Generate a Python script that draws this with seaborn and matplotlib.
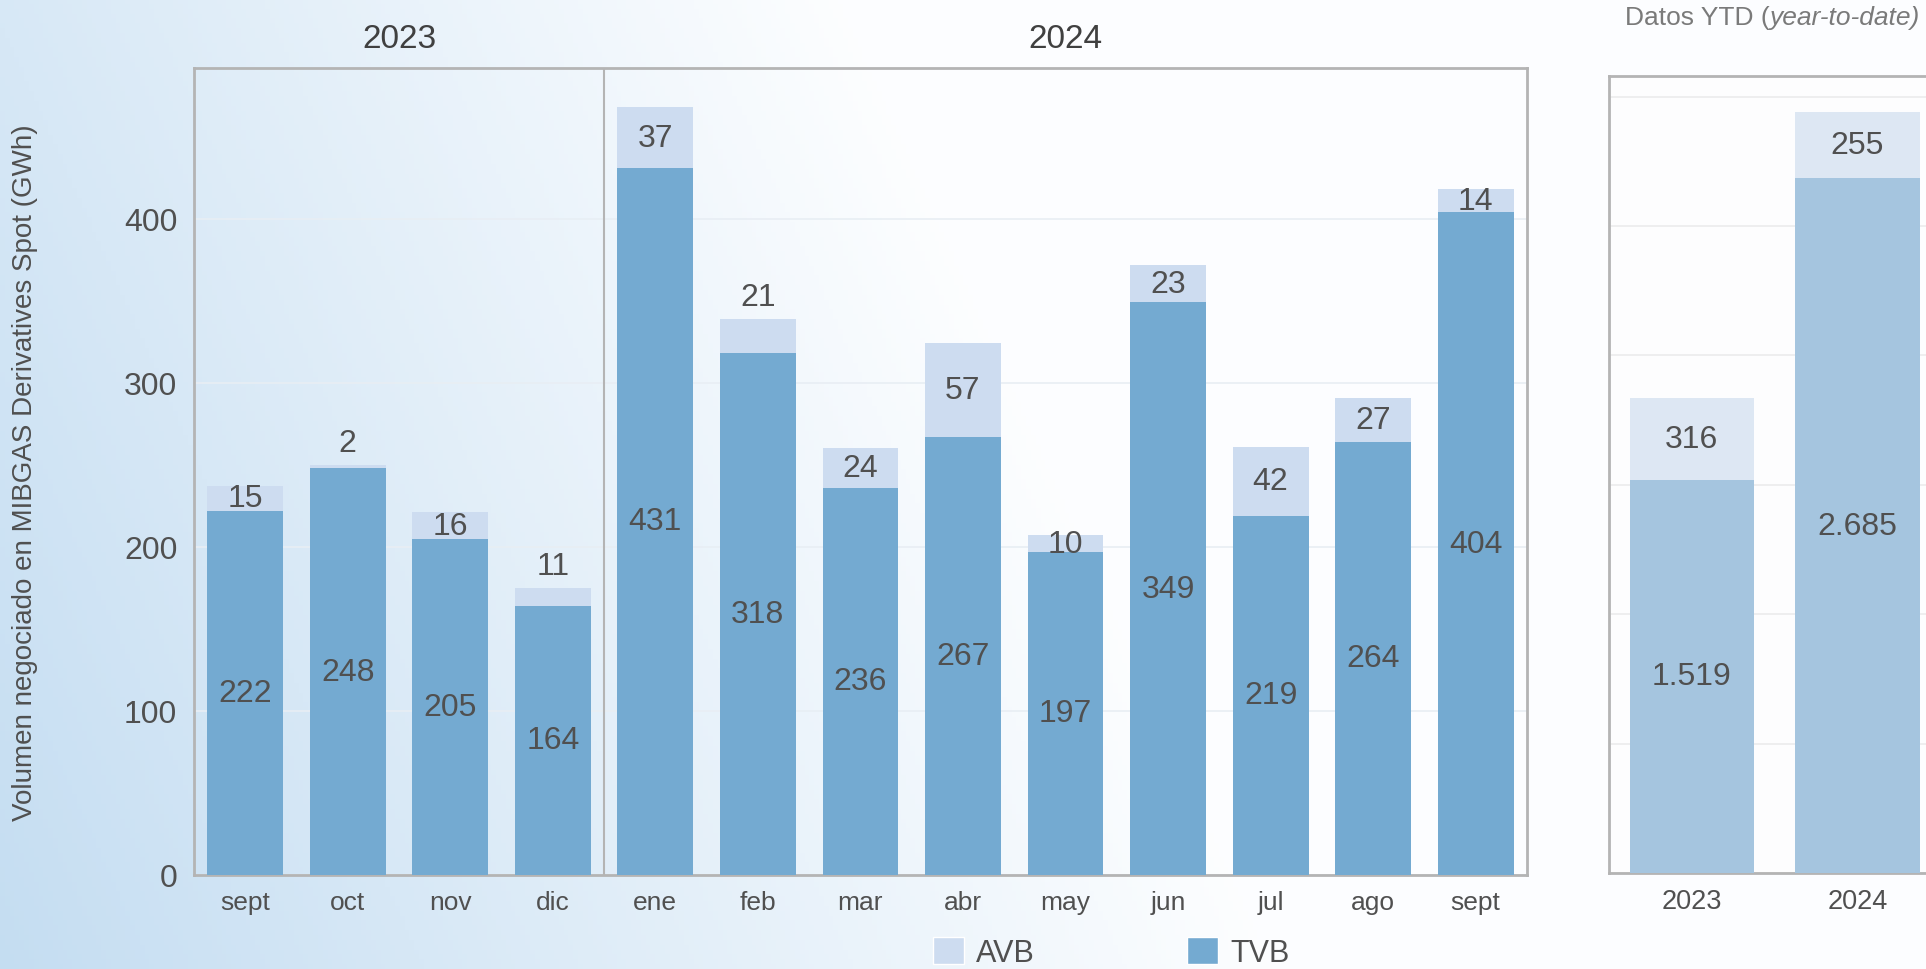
import numpy as np
import pandas as pd
import matplotlib
matplotlib.use("Agg")
import matplotlib.pyplot as plt
import seaborn as sns
from matplotlib.patches import Patch

# ================= DATA =================

meses = ["sept", "oct", "nov", "dic", "ene", "feb", "mar", "abr", "may", "jun", "jul", "ago", "sept"]
anios_mes = ["2023"] * 4 + ["2024"] * 9
tvb = [222, 248, 205, 164, 431, 318, 236, 267, 197, 349, 219, 264, 404]
avb = [15, 2, 16, 11, 37, 21, 24, 57, 10, 23, 42, 27, 14]

ytd_anios = ["2023", "2024"]
ytd_tvb = [1519, 2685]
ytd_avb = [316, 255]

# ================= STYLE =================

TVB_COLOR = "#74aad1"
AVB_COLOR = "#cddcf0"
TVB_LIGHT = "#a5c5df"
AVB_LIGHT = "#dde7f3"
TXT = "#505050"
SPINE = "#b4b4b4"

sns.set_style("white")
plt.rcParams["font.family"] = ["Liberation Sans", "DejaVu Sans"]

fig = plt.figure(figsize=(19.26, 9.70), dpi=100)

# background gradient (light blue on the left fading to white)
h, w = 200, 400
xx, yy = np.meshgrid(np.linspace(0, 1, w), np.linspace(1, 0, h))
t = np.clip(0.12 + xx / 0.75 + 0.3 * yy, 0, 1)
blue = np.array([0.74, 0.85, 0.94])
white = np.array([0.99, 0.995, 1.0])
grad = blue[None, None, :] * (1 - t[..., None]) + white[None, None, :] * t[..., None]
bg = fig.add_axes([0, 0, 1, 1], zorder=-10)
bg.imshow(grad, extent=[0, 1, 0, 1], aspect="auto")
bg.set_xlim(0, 1)
bg.set_ylim(0, 1)
bg.axis("off")

# ================= MAIN PANEL =================

df = pd.DataFrame({
    "key": [f"{m}-{a}" for m, a in zip(meses, anios_mes)],
    "TVB": tvb,
    "AVB": avb,
})
df["total"] = df["TVB"] + df["AVB"]

ax = fig.add_axes([0.1007, 0.097, 0.6921, 0.832])
ax.patch.set_alpha(0)
ax.yaxis.grid(True, color="#e8eef4", lw=1.2)
ax.set_axisbelow(True)

sns.barplot(data=df, x="key", y="total", color=AVB_COLOR, saturation=1, width=0.74,
            linewidth=0, ax=ax, zorder=2)
sns.barplot(data=df, x="key", y="TVB", color=TVB_COLOR, saturation=1, width=0.74,
            linewidth=0, ax=ax, zorder=3)

ax.set_xlim(-0.5, len(meses) - 0.5)
ax.set_ylim(0, 492)
ax.set_xticks(range(len(meses)))
ax.set_xticklabels(meses, fontsize=19, color=TXT)
ax.set_yticks([0, 100, 200, 300, 400])
ax.tick_params(axis="y", labelsize=23, labelcolor=TXT, length=0, pad=12)
ax.tick_params(axis="x", length=0, pad=11)
ax.set_xlabel("")
ax.set_ylabel("Volumen negociado en MIBGAS Derivatives Spot (GWh)", fontsize=20, color=TXT)
ax.yaxis.set_label_coords(-0.117, 0.5)
for s in ax.spines.values():
    s.set_color(SPINE)
    s.set_linewidth(2)
ax.axvline(3.5, color=SPINE, lw=1.5, zorder=4)

# year headers
ax.text(1.5, 1.037, "2023", transform=ax.get_xaxis_transform(), ha="center", va="center", fontsize=24, color="#404040")
ax.text(8.0, 1.037, "2024", transform=ax.get_xaxis_transform(), ha="center", va="center", fontsize=24, color="#404040")

# value labels
encima = {1, 3, 5}  # small AVB segments labelled above the bar
for i, (b, a) in enumerate(zip(tvb, avb)):
    ax.text(i, b / 2, str(b), ha="center", va="center", fontsize=23, color=TXT, zorder=5)
    if i in encima:
        ax.text(i, b + a + 4, str(a), ha="center", va="bottom", fontsize=23, color=TXT, zorder=5)
    else:
        ax.text(i, b + a / 2, str(a), ha="center", va="center", fontsize=23, color=TXT, zorder=5)

# ================= YTD PANEL =================

dfy = pd.DataFrame({"anio": ytd_anios, "TVB": ytd_tvb, "AVB": ytd_avb})
dfy["total"] = dfy["TVB"] + dfy["AVB"]

ax2 = fig.add_axes([0.8354, 0.099, 0.172, 0.8216])
ax2.set_facecolor("#fdfdfe")
ax2.yaxis.grid(True, color="#ececec", lw=1.2)
ax2.set_axisbelow(True)
sns.barplot(data=dfy, x="anio", y="total", color=AVB_LIGHT, saturation=1, width=0.75,
            linewidth=0, ax=ax2, zorder=2)
sns.barplot(data=dfy, x="anio", y="TVB", color=TVB_LIGHT, saturation=1, width=0.75,
            linewidth=0, ax=ax2, zorder=3)
ax2.set_xlim(-0.5, 1.5)
ax2.set_ylim(0, 3080)
ax2.set_yticks(range(0, 3001, 500))
ax2.set_yticklabels([])
ax2.tick_params(axis="both", length=0)
ax2.tick_params(axis="x", labelsize=19.5, labelcolor=TXT, pad=11)
ax2.set_xlabel("")
ax2.set_ylabel("")
for s in ax2.spines.values():
    s.set_color(SPINE)
    s.set_linewidth(2)


def fmt_es(v):
    return f"{v:,}".replace(",", ".")


for i, (b, a) in enumerate(zip(ytd_tvb, ytd_avb)):
    ax2.text(i, b / 2, fmt_es(b), ha="center", va="center", fontsize=23, color=TXT, zorder=5)
    ax2.text(i, b + a / 2, fmt_es(a), ha="center", va="center", fontsize=23, color=TXT, zorder=5)

t1 = fig.text(0.8437, 0.981, "Datos YTD (", ha="left", va="center", fontsize=19, color="#7a7a7a")
bg.annotate("year-to-date)", xy=(1, 0), xycoords=t1, ha="left", va="bottom",
            fontsize=19, color="#7a7a7a", style="italic")

# ================= LEGEND =================

handles = [Patch(facecolor=AVB_COLOR, label="AVB"), Patch(facecolor=TVB_COLOR, label="TVB")]
fig.legend(handles=handles, loc="center", bbox_to_anchor=(0.577, 0.017), ncol=2, frameon=False,
           fontsize=22, labelcolor=TXT, handlelength=1.0, handleheight=1.0, handletextpad=0.4,
           columnspacing=5.0)

fig.savefig("out.png", dpi=100)
